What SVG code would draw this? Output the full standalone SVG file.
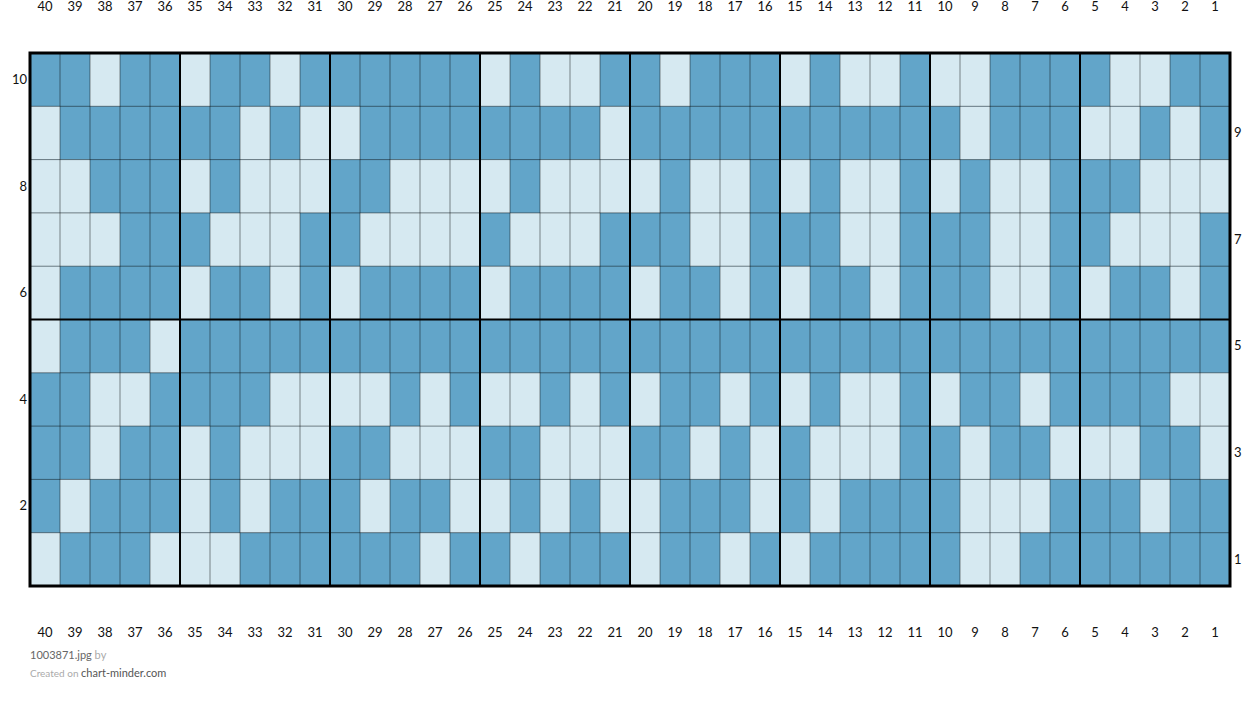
<svg xmlns="http://www.w3.org/2000/svg" width="1260" height="703" viewBox="0 0 1260 703">
<style>
.d{fill:#62a5c9}
.l{fill:#d6e9f1}
.num{font-family:Lato,"Liberation Sans",sans-serif;font-size:13px;fill:#111;text-anchor:middle}
.rl{font-family:Lato,"Liberation Sans",sans-serif;font-size:13px;fill:#111}
.thin{stroke:#000;stroke-opacity:0.45;stroke-width:1;fill:none}
.thick{stroke:#000;stroke-width:2;fill:none}
</style>
<rect width="1260" height="703" fill="#fff"/>
<g id="cells">
<rect class="d" x="30" y="53" width="1200" height="533"/>
<g id="row10">
<rect class="l" x="90" y="53" width="30" height="53.3"/><rect class="l" x="180" y="53" width="30" height="53.3"/><rect class="l" x="270" y="53" width="30" height="53.3"/><rect class="l" x="480" y="53" width="30" height="53.3"/><rect class="l" x="540" y="53" width="30" height="53.3"/><rect class="l" x="570" y="53" width="30" height="53.3"/><rect class="l" x="660" y="53" width="30" height="53.3"/><rect class="l" x="780" y="53" width="30" height="53.3"/><rect class="l" x="840" y="53" width="30" height="53.3"/><rect class="l" x="870" y="53" width="30" height="53.3"/><rect class="l" x="930" y="53" width="30" height="53.3"/><rect class="l" x="960" y="53" width="30" height="53.3"/><rect class="l" x="1110" y="53" width="30" height="53.3"/><rect class="l" x="1140" y="53" width="30" height="53.3"/>
</g>
<g id="row9">
<rect class="l" x="30" y="106.3" width="30" height="53.3"/><rect class="l" x="240" y="106.3" width="30" height="53.3"/><rect class="l" x="300" y="106.3" width="30" height="53.3"/><rect class="l" x="330" y="106.3" width="30" height="53.3"/><rect class="l" x="600" y="106.3" width="30" height="53.3"/><rect class="l" x="960" y="106.3" width="30" height="53.3"/><rect class="l" x="1080" y="106.3" width="30" height="53.3"/><rect class="l" x="1110" y="106.3" width="30" height="53.3"/><rect class="l" x="1170" y="106.3" width="30" height="53.3"/>
</g>
<g id="row8">
<rect class="l" x="30" y="159.6" width="30" height="53.3"/><rect class="l" x="60" y="159.6" width="30" height="53.3"/><rect class="l" x="180" y="159.6" width="30" height="53.3"/><rect class="l" x="240" y="159.6" width="30" height="53.3"/><rect class="l" x="270" y="159.6" width="30" height="53.3"/><rect class="l" x="300" y="159.6" width="30" height="53.3"/><rect class="l" x="390" y="159.6" width="30" height="53.3"/><rect class="l" x="420" y="159.6" width="30" height="53.3"/><rect class="l" x="450" y="159.6" width="30" height="53.3"/><rect class="l" x="480" y="159.6" width="30" height="53.3"/><rect class="l" x="540" y="159.6" width="30" height="53.3"/><rect class="l" x="570" y="159.6" width="30" height="53.3"/><rect class="l" x="600" y="159.6" width="30" height="53.3"/><rect class="l" x="630" y="159.6" width="30" height="53.3"/><rect class="l" x="690" y="159.6" width="30" height="53.3"/><rect class="l" x="720" y="159.6" width="30" height="53.3"/><rect class="l" x="780" y="159.6" width="30" height="53.3"/><rect class="l" x="840" y="159.6" width="30" height="53.3"/><rect class="l" x="870" y="159.6" width="30" height="53.3"/><rect class="l" x="930" y="159.6" width="30" height="53.3"/><rect class="l" x="990" y="159.6" width="30" height="53.3"/><rect class="l" x="1020" y="159.6" width="30" height="53.3"/><rect class="l" x="1140" y="159.6" width="30" height="53.3"/><rect class="l" x="1170" y="159.6" width="30" height="53.3"/><rect class="l" x="1200" y="159.6" width="30" height="53.3"/>
</g>
<g id="row7">
<rect class="l" x="30" y="212.9" width="30" height="53.3"/><rect class="l" x="60" y="212.9" width="30" height="53.3"/><rect class="l" x="90" y="212.9" width="30" height="53.3"/><rect class="l" x="210" y="212.9" width="30" height="53.3"/><rect class="l" x="240" y="212.9" width="30" height="53.3"/><rect class="l" x="270" y="212.9" width="30" height="53.3"/><rect class="l" x="360" y="212.9" width="30" height="53.3"/><rect class="l" x="390" y="212.9" width="30" height="53.3"/><rect class="l" x="420" y="212.9" width="30" height="53.3"/><rect class="l" x="450" y="212.9" width="30" height="53.3"/><rect class="l" x="510" y="212.9" width="30" height="53.3"/><rect class="l" x="540" y="212.9" width="30" height="53.3"/><rect class="l" x="570" y="212.9" width="30" height="53.3"/><rect class="l" x="690" y="212.9" width="30" height="53.3"/><rect class="l" x="720" y="212.9" width="30" height="53.3"/><rect class="l" x="840" y="212.9" width="30" height="53.3"/><rect class="l" x="870" y="212.9" width="30" height="53.3"/><rect class="l" x="990" y="212.9" width="30" height="53.3"/><rect class="l" x="1020" y="212.9" width="30" height="53.3"/><rect class="l" x="1110" y="212.9" width="30" height="53.3"/><rect class="l" x="1140" y="212.9" width="30" height="53.3"/><rect class="l" x="1170" y="212.9" width="30" height="53.3"/>
</g>
<g id="row6">
<rect class="l" x="30" y="266.2" width="30" height="53.3"/><rect class="l" x="180" y="266.2" width="30" height="53.3"/><rect class="l" x="270" y="266.2" width="30" height="53.3"/><rect class="l" x="330" y="266.2" width="30" height="53.3"/><rect class="l" x="480" y="266.2" width="30" height="53.3"/><rect class="l" x="630" y="266.2" width="30" height="53.3"/><rect class="l" x="720" y="266.2" width="30" height="53.3"/><rect class="l" x="780" y="266.2" width="30" height="53.3"/><rect class="l" x="870" y="266.2" width="30" height="53.3"/><rect class="l" x="990" y="266.2" width="30" height="53.3"/><rect class="l" x="1020" y="266.2" width="30" height="53.3"/><rect class="l" x="1080" y="266.2" width="30" height="53.3"/><rect class="l" x="1170" y="266.2" width="30" height="53.3"/>
</g>
<g id="row5">
<rect class="l" x="30" y="319.5" width="30" height="53.3"/><rect class="l" x="150" y="319.5" width="30" height="53.3"/>
</g>
<g id="row4">
<rect class="l" x="90" y="372.8" width="30" height="53.3"/><rect class="l" x="120" y="372.8" width="30" height="53.3"/><rect class="l" x="270" y="372.8" width="30" height="53.3"/><rect class="l" x="300" y="372.8" width="30" height="53.3"/><rect class="l" x="330" y="372.8" width="30" height="53.3"/><rect class="l" x="360" y="372.8" width="30" height="53.3"/><rect class="l" x="420" y="372.8" width="30" height="53.3"/><rect class="l" x="480" y="372.8" width="30" height="53.3"/><rect class="l" x="510" y="372.8" width="30" height="53.3"/><rect class="l" x="570" y="372.8" width="30" height="53.3"/><rect class="l" x="630" y="372.8" width="30" height="53.3"/><rect class="l" x="720" y="372.8" width="30" height="53.3"/><rect class="l" x="780" y="372.8" width="30" height="53.3"/><rect class="l" x="840" y="372.8" width="30" height="53.3"/><rect class="l" x="870" y="372.8" width="30" height="53.3"/><rect class="l" x="930" y="372.8" width="30" height="53.3"/><rect class="l" x="1020" y="372.8" width="30" height="53.3"/><rect class="l" x="1170" y="372.8" width="30" height="53.3"/><rect class="l" x="1200" y="372.8" width="30" height="53.3"/>
</g>
<g id="row3">
<rect class="l" x="90" y="426.1" width="30" height="53.3"/><rect class="l" x="180" y="426.1" width="30" height="53.3"/><rect class="l" x="240" y="426.1" width="30" height="53.3"/><rect class="l" x="270" y="426.1" width="30" height="53.3"/><rect class="l" x="300" y="426.1" width="30" height="53.3"/><rect class="l" x="390" y="426.1" width="30" height="53.3"/><rect class="l" x="420" y="426.1" width="30" height="53.3"/><rect class="l" x="450" y="426.1" width="30" height="53.3"/><rect class="l" x="540" y="426.1" width="30" height="53.3"/><rect class="l" x="570" y="426.1" width="30" height="53.3"/><rect class="l" x="600" y="426.1" width="30" height="53.3"/><rect class="l" x="690" y="426.1" width="30" height="53.3"/><rect class="l" x="750" y="426.1" width="30" height="53.3"/><rect class="l" x="810" y="426.1" width="30" height="53.3"/><rect class="l" x="840" y="426.1" width="30" height="53.3"/><rect class="l" x="870" y="426.1" width="30" height="53.3"/><rect class="l" x="960" y="426.1" width="30" height="53.3"/><rect class="l" x="1050" y="426.1" width="30" height="53.3"/><rect class="l" x="1080" y="426.1" width="30" height="53.3"/><rect class="l" x="1110" y="426.1" width="30" height="53.3"/><rect class="l" x="1200" y="426.1" width="30" height="53.3"/>
</g>
<g id="row2">
<rect class="l" x="60" y="479.4" width="30" height="53.3"/><rect class="l" x="180" y="479.4" width="30" height="53.3"/><rect class="l" x="240" y="479.4" width="30" height="53.3"/><rect class="l" x="360" y="479.4" width="30" height="53.3"/><rect class="l" x="450" y="479.4" width="30" height="53.3"/><rect class="l" x="480" y="479.4" width="30" height="53.3"/><rect class="l" x="540" y="479.4" width="30" height="53.3"/><rect class="l" x="600" y="479.4" width="30" height="53.3"/><rect class="l" x="630" y="479.4" width="30" height="53.3"/><rect class="l" x="750" y="479.4" width="30" height="53.3"/><rect class="l" x="810" y="479.4" width="30" height="53.3"/><rect class="l" x="960" y="479.4" width="30" height="53.3"/><rect class="l" x="990" y="479.4" width="30" height="53.3"/><rect class="l" x="1020" y="479.4" width="30" height="53.3"/><rect class="l" x="1140" y="479.4" width="30" height="53.3"/>
</g>
<g id="row1">
<rect class="l" x="30" y="532.7" width="30" height="53.3"/><rect class="l" x="150" y="532.7" width="30" height="53.3"/><rect class="l" x="180" y="532.7" width="30" height="53.3"/><rect class="l" x="210" y="532.7" width="30" height="53.3"/><rect class="l" x="420" y="532.7" width="30" height="53.3"/><rect class="l" x="510" y="532.7" width="30" height="53.3"/><rect class="l" x="630" y="532.7" width="30" height="53.3"/><rect class="l" x="720" y="532.7" width="30" height="53.3"/><rect class="l" x="780" y="532.7" width="30" height="53.3"/><rect class="l" x="960" y="532.7" width="30" height="53.3"/><rect class="l" x="990" y="532.7" width="30" height="53.3"/>
</g>
</g>
<g id="gridlines">
<path class="thin" d="M60 53V586M90 53V586M120 53V586M150 53V586M210 53V586M240 53V586M270 53V586M300 53V586M360 53V586M390 53V586M420 53V586M450 53V586M510 53V586M540 53V586M570 53V586M600 53V586M660 53V586M690 53V586M720 53V586M750 53V586M810 53V586M840 53V586M870 53V586M900 53V586M960 53V586M990 53V586M1020 53V586M1050 53V586M1110 53V586M1140 53V586M1170 53V586M1200 53V586M30 106.3H1230M30 159.6H1230M30 212.9H1230M30 266.2H1230M30 372.8H1230M30 426.1H1230M30 479.4H1230M30 532.7H1230"/>
<path class="thick" d="M180 53V586M330 53V586M480 53V586M630 53V586M780 53V586M930 53V586M1080 53V586M30 319.5H1230"/>
<rect x="30" y="53" width="1200" height="533" fill="none" stroke="#000" stroke-width="3"/>
</g>
<g id="top-labels" class="num">
<text x="45" y="11">40</text><text x="75" y="11">39</text><text x="105" y="11">38</text><text x="135" y="11">37</text><text x="165" y="11">36</text><text x="195" y="11">35</text><text x="225" y="11">34</text><text x="255" y="11">33</text><text x="285" y="11">32</text><text x="315" y="11">31</text><text x="345" y="11">30</text><text x="375" y="11">29</text><text x="405" y="11">28</text><text x="435" y="11">27</text><text x="465" y="11">26</text><text x="495" y="11">25</text><text x="525" y="11">24</text><text x="555" y="11">23</text><text x="585" y="11">22</text><text x="615" y="11">21</text><text x="645" y="11">20</text><text x="675" y="11">19</text><text x="705" y="11">18</text><text x="735" y="11">17</text><text x="765" y="11">16</text><text x="795" y="11">15</text><text x="825" y="11">14</text><text x="855" y="11">13</text><text x="885" y="11">12</text><text x="915" y="11">11</text><text x="945" y="11">10</text><text x="975" y="11">9</text><text x="1005" y="11">8</text><text x="1035" y="11">7</text><text x="1065" y="11">6</text><text x="1095" y="11">5</text><text x="1125" y="11">4</text><text x="1155" y="11">3</text><text x="1185" y="11">2</text><text x="1215" y="11">1</text>
</g>
<g id="bottom-labels" class="num">
<text x="45" y="637">40</text><text x="75" y="637">39</text><text x="105" y="637">38</text><text x="135" y="637">37</text><text x="165" y="637">36</text><text x="195" y="637">35</text><text x="225" y="637">34</text><text x="255" y="637">33</text><text x="285" y="637">32</text><text x="315" y="637">31</text><text x="345" y="637">30</text><text x="375" y="637">29</text><text x="405" y="637">28</text><text x="435" y="637">27</text><text x="465" y="637">26</text><text x="495" y="637">25</text><text x="525" y="637">24</text><text x="555" y="637">23</text><text x="585" y="637">22</text><text x="615" y="637">21</text><text x="645" y="637">20</text><text x="675" y="637">19</text><text x="705" y="637">18</text><text x="735" y="637">17</text><text x="765" y="637">16</text><text x="795" y="637">15</text><text x="825" y="637">14</text><text x="855" y="637">13</text><text x="885" y="637">12</text><text x="915" y="637">11</text><text x="945" y="637">10</text><text x="975" y="637">9</text><text x="1005" y="637">8</text><text x="1035" y="637">7</text><text x="1065" y="637">6</text><text x="1095" y="637">5</text><text x="1125" y="637">4</text><text x="1155" y="637">3</text><text x="1185" y="637">2</text><text x="1215" y="637">1</text>
</g>
<g id="row-labels" class="rl">
<text x="27" y="84" text-anchor="end">10</text>
<text x="27" y="191" text-anchor="end">8</text>
<text x="27" y="297" text-anchor="end">6</text>
<text x="27" y="404" text-anchor="end">4</text>
<text x="27" y="510" text-anchor="end">2</text>
<text x="1234" y="137">9</text>
<text x="1234" y="244">7</text>
<text x="1234" y="350">5</text>
<text x="1234" y="457">3</text>
<text x="1234" y="564">1</text>
</g>
<g id="footer" font-family="Lato,'Liberation Sans',sans-serif">
<text x="30" y="659" font-size="11" fill="#666">1003871.jpg <tspan fill="#aaa">by</tspan></text>
<text x="30" y="677" font-size="10" fill="#aaa">Created on <tspan font-size="11" fill="#555">chart-minder.com</tspan></text>
</g>
</svg>
